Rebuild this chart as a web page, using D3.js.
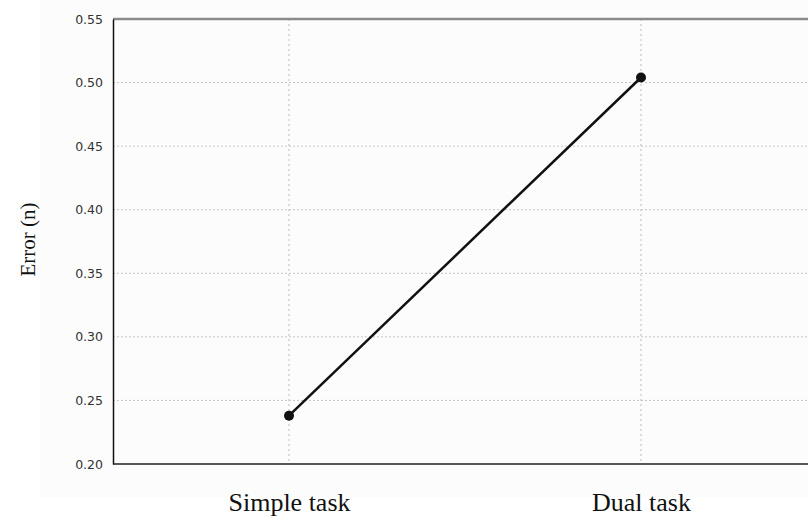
<!DOCTYPE html>
<html>
<head>
<meta charset="utf-8">
<script src="https://cdn.jsdelivr.net/npm/d3@7"></script>
<style>
  body { margin: 0; background: #fff; }
  svg { display: block; }
</style>
</head>
<body>
<div id="chart"></div>
<script>
// dados do gráfico
const categories = ["Simple task", "Dual task"];
const errorValues = [0.238, 0.504];
const yTicks = [0.20, 0.25, 0.30, 0.35, 0.40, 0.45, 0.50, 0.55];

const W = 808, H = 516;
const svg = d3.select("#chart").append("svg")
  .attr("width", W)
  .attr("height", H);

// fundo levemente cinza
svg.append("rect")
  .attr("x", 40).attr("y", 0)
  .attr("width", W - 40).attr("height", 497)
  .attr("fill", "#fcfcfc");

const plotLeft = 113, plotTop = 19, plotBottom = 464;

const x = d3.scalePoint()
  .domain(categories)
  .range([plotLeft, 817])
  .padding(0.5);

const y = d3.scaleLinear()
  .domain([0.20, 0.55])
  .range([plotBottom, plotTop]);

// grade horizontal
svg.append("g")
  .selectAll("line")
  .data(yTicks.slice(1, -1))
  .join("line")
  .attr("x1", plotLeft).attr("x2", W)
  .attr("y1", d => y(d)).attr("y2", d => y(d))
  .attr("stroke", "#c4c4c4")
  .attr("stroke-dasharray", "2,2")
  .attr("stroke-width", 1);

// grade vertical
svg.append("g")
  .selectAll("line")
  .data(categories)
  .join("line")
  .attr("x1", d => x(d)).attr("x2", d => x(d))
  .attr("y1", plotTop).attr("y2", plotBottom)
  .attr("stroke", "#bdbdbd")
  .attr("stroke-dasharray", "2,3")
  .attr("stroke-width", 1);

// borda superior
svg.append("line")
  .attr("x1", plotLeft).attr("x2", W)
  .attr("y1", plotTop).attr("y2", plotTop)
  .attr("stroke", "#8a8a8a").attr("stroke-width", 2.5);

// eixo y
const yAxis = svg.append("g")
  .attr("transform", `translate(${plotLeft},0)`)
  .call(d3.axisLeft(y).tickValues(yTicks).tickFormat(d3.format(".2f")).tickSize(0).tickPadding(10));
yAxis.select(".domain").attr("stroke", "#111").attr("stroke-width", 1.5);
yAxis.selectAll("text")
  .attr("font-family", "DejaVu Sans, Verdana, sans-serif")
  .attr("font-size", 12.5)
  .attr("fill", "#333");

// eixo x
const xAxis = svg.append("g")
  .attr("transform", `translate(0,${plotBottom})`)
  .call(d3.axisBottom(x).tickSize(0).tickPadding(29));
xAxis.select(".domain").attr("d", `M${plotLeft},0H${W}`).attr("stroke", "#222").attr("stroke-width", 1.5);
xAxis.selectAll("text")
  .attr("font-family", "Liberation Serif, Times New Roman, serif")
  .attr("font-size", 26)
  .attr("fill", "#111");

// linha
const line = d3.line()
  .x((d, i) => x(categories[i]))
  .y(d => y(d));

svg.append("path")
  .datum(errorValues)
  .attr("fill", "none")
  .attr("stroke", "#111")
  .attr("stroke-width", 2.5)
  .attr("d", line);

svg.append("g")
  .selectAll("circle")
  .data(errorValues)
  .join("circle")
  .attr("cx", (d, i) => x(categories[i]))
  .attr("cy", d => y(d))
  .attr("r", 5)
  .attr("fill", "#111");

// título do eixo y
svg.append("text")
  .attr("transform", `translate(35,${(202 + 277) / 2}) rotate(-90)`)
  .attr("text-anchor", "middle")
  .attr("font-family", "Liberation Serif, Times New Roman, serif")
  .attr("font-size", 21)
  .attr("fill", "#111")
  .text("Error (n)");
</script>
</body>
</html>
